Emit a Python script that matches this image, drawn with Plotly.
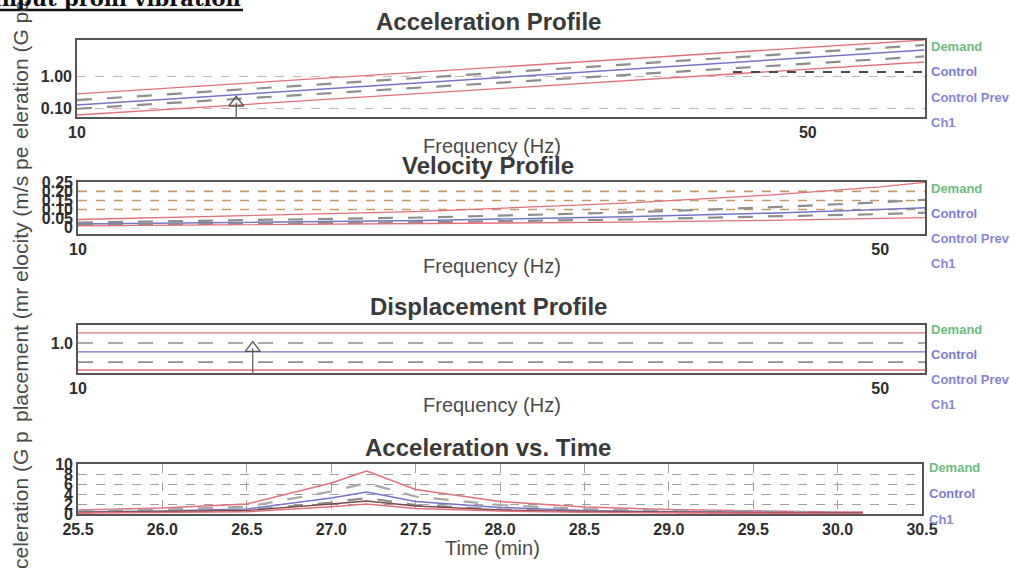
import plotly.graph_objects as go

W, H = 1010, 569

# ---------------- data ----------------
# Acceleration profile (G peak) vs frequency (Hz), log-log
acc_freq = [10, 64.6]
acc_abort_hi = [0.28, 12.8]
acc_alarm_hi = [0.18, 9.0]
acc_control = [0.128, 6.3]
acc_alarm_lo = [0.098, 4.0]
acc_abort_lo = [0.063, 2.7]
acc_prev_freq = [42.4, 64.6]
acc_prev = [1.33, 1.33]

# Velocity profile (m/s peak)
vel_freq = [10, 20, 30, 40, 50, 54.7]
vel_abort_hi = [0.045, 0.09, 0.135, 0.18, 0.225, 0.25]
vel_alarm_hi = [0.028, 0.056, 0.084, 0.112, 0.14, 0.154]
vel_control = [0.02, 0.04, 0.06, 0.08, 0.10, 0.11]
vel_alarm_lo = [0.015, 0.03, 0.045, 0.06, 0.075, 0.083]
vel_abort_lo = [0.01, 0.02, 0.03, 0.04, 0.05, 0.055]
vel_grid = [0.10, 0.15, 0.20]

# Displacement profile (mm)
dis_freq = [10, 54.7]
dis_abort_hi = [1.47, 1.47]
dis_alarm_hi = [1.0, 1.0]
dis_control = [0.71, 0.71]
dis_alarm_lo = [0.48, 0.48]
dis_abort_lo = [0.355, 0.355]

# Start marker (frequency, arrow bottom / tip)
mark_freq = 14.2
acc_mark_y = [0.055, 0.15]
dis_mark_y = [0.32, 0.82]

# Acceleration vs time
t_min = [25.5, 26.0, 26.5, 27.0, 27.21, 27.5, 28.0, 28.5, 29.0, 29.5, 30.0, 30.15]
t_abort_hi = [0.8, 1.2, 2.0, 6.2, 8.6, 4.9, 2.5, 1.4, 0.9, 0.6, 0.4, 0.4]
t_alarm_hi = [0.6, 0.9, 1.45, 4.5, 6.2, 3.5, 1.8, 1.0, 0.65, 0.43, 0.3, 0.3]
t_control = [0.4, 0.6, 1.0, 3.2, 4.4, 2.5, 1.3, 0.7, 0.45, 0.3, 0.2, 0.2]
t_alarm_lo = [0.3, 0.45, 0.75, 2.3, 3.2, 1.8, 0.9, 0.5, 0.33, 0.22, 0.15, 0.15]
t_abort_lo = [0.2, 0.28, 0.45, 1.45, 2.0, 1.1, 0.6, 0.33, 0.2, 0.14, 0.1, 0.1]
t_ch1 = [0.3, 0.45, 0.7, 2.0, 2.6, 1.6, 0.8, 0.5, 0.35, 0.25, 0.2, 0.2]

freq_ticks = [10, 50]
time_ticks = [25.5, 26.0, 26.5, 27.0, 27.5, 28.0, 28.5, 29.0, 29.5, 30.0, 30.5]
titles = ["Acceleration Profile", "Velocity Profile", "Displacement Profile", "Acceleration vs. Time"]
ytitle_frags = ["eleration (G pe", "elocity (m/s pe", "placement (mr", "celeration (G p"]
legend_freq = ["Demand", "Control", "Control Prev", "Ch1"]
legend_time = ["Demand", "Control", "Ch1"]

# ---------------- style ----------------
RED = "#e3707c"
GRAY = "#8e8e8e"
BLUE = "#7474c8"
DARK = "#4a4a4a"
FONT = "Liberation Sans, Arial, sans-serif"


def px(x):
    return x / W


def py(y):
    return 1 - y / H


fig = go.Figure()


def add(x, y, ax, color, width=1.3, dash="solid"):
    fig.add_trace(go.Scatter(x=x, y=y, mode="lines", xaxis="x" + ax, yaxis="y" + ax,
                             line=dict(color=color, width=width, dash=dash),
                             showlegend=False, hoverinfo="skip"))


# panel 1
add(acc_freq, acc_abort_hi, "", RED)
add(acc_freq, acc_alarm_hi, "", GRAY, 2.2, "longdash")
add(acc_freq, acc_control, "", BLUE, 1.5)
add(acc_freq, acc_alarm_lo, "", GRAY, 2.2, "longdash")
add(acc_freq, acc_abort_lo, "", RED)
add(acc_prev_freq, acc_prev, "", DARK, 2, "dash")
# panel 2
add(vel_freq, vel_abort_hi, "2", RED)
add(vel_freq, vel_alarm_hi, "2", GRAY, 2.2, "longdash")
add(vel_freq, vel_control, "2", BLUE, 1.5)
add(vel_freq, vel_alarm_lo, "2", GRAY, 2.2, "longdash")
add(vel_freq, vel_abort_lo, "2", RED)
# panel 3
add(dis_freq, dis_abort_hi, "3", RED)
add(dis_freq, dis_alarm_hi, "3", GRAY, 1.6, "longdash")
add(dis_freq, dis_control, "3", BLUE, 1.3)
add(dis_freq, dis_alarm_lo, "3", GRAY, 1.6, "longdash")
add(dis_freq, dis_abort_lo, "3", RED)
# panel 4
add(t_min, t_abort_hi, "4", RED, 1.5)
add(t_min, t_alarm_hi, "4", "#a8a8a8", 2.2, "longdash")
add(t_min, t_control, "4", BLUE, 1.5)
add(t_min, t_alarm_lo, "4", GRAY, 2.2, "longdash")
add(t_min, t_ch1, "4", "#7a4a4a", 1.3)
add(t_min, t_abort_lo, "4", RED, 1.5)

# start markers (arrow)
for ax, ys in (("", acc_mark_y), ("3", dis_mark_y)):
    fig.add_trace(go.Scatter(x=[mark_freq, mark_freq], y=ys, mode="lines", xaxis="x" + ax, yaxis="y" + ax,
                             line=dict(color="#555", width=1.2), showlegend=False, hoverinfo="skip"))
    fig.add_trace(go.Scatter(x=[mark_freq], y=[ys[1]], mode="markers", xaxis="x" + ax, yaxis="y" + ax,
                             marker=dict(symbol="triangle-up-open", size=13, color="#555",
                                         line=dict(width=1.3, color="#555")),
                             showlegend=False, hoverinfo="skip"))

tickfont = dict(family=FONT, size=16, color="#2e2e2e", weight="bold")
axbase = dict(showline=True, mirror=True, linecolor="#555", linewidth=1.6, ticks="",
              tickfont=tickfont, zeroline=False, automargin=False)

panels = {
    "": dict(x=(77, 925), y=(40, 117)),
    "2": dict(x=(78, 925), y=(182, 234)),
    "3": dict(x=(78, 925), y=(325, 373)),
    "4": dict(x=(78, 922), y=(464, 514)),
}

layout = dict(width=W, height=H, margin=dict(l=0, r=0, t=0, b=0, pad=0), autosize=False,
              paper_bgcolor="white", plot_bgcolor="white", showlegend=False)

xr = {"": [1, 1.811], "2": [1, 1.738], "3": [1, 1.738], "4": [25.5, 30.5]}
for k, p in panels.items():
    xa = dict(axbase, domain=[px(p["x"][0]), px(p["x"][1])], anchor="y" + k, range=xr[k])
    if k == "4":
        xa.update(type="linear", tickvals=time_ticks, ticktext=["%.1f" % v for v in time_ticks],
                  showgrid=True, gridcolor="#a0a0a0", griddash="dash", gridwidth=1)
    else:
        xa.update(type="log", tickvals=freq_ticks, ticktext=[str(v) for v in freq_ticks], showgrid=False)
    layout["xaxis" + k] = xa

layout["yaxis"] = dict(axbase, domain=[py(117), py(40)], anchor="x", type="log", range=[-1.262, 1.108],
                       tickvals=[0.1, 1.0], ticktext=["0.10", "1.00"], showgrid=True,
                       gridcolor="#d6aeb0", griddash="dash", gridwidth=1)
vt = [0, 0.05, 0.10, 0.15, 0.20, 0.25]
layout["yaxis2"] = dict(axbase, domain=[py(234), py(182)], anchor="x2", range=[-0.035, 0.252],
                        tickvals=vt, ticktext=["0", "0.05", "0.10", "0.15", "0.20", "0.25"], showgrid=False)
layout["yaxis3"] = dict(axbase, domain=[py(373), py(325)], anchor="x3", type="log", range=[-0.5, 0.3],
                        tickvals=[1.0], ticktext=["1.0"], showgrid=False)
layout["yaxis4"] = dict(axbase, domain=[py(514), py(464)], anchor="x4", range=[0, 10],
                        tickvals=[0, 2, 4, 6, 8, 10], ticktext=["0", "2", "4", "6", "8", "10"], showgrid=True,
                        gridcolor="#a0a0a0", griddash="dash", gridwidth=1)

ann = []
title_y = [22, 165, 306, 447]
for t, yy in zip(titles, title_y):
    ann.append(dict(text=t, x=px(488), y=py(yy), xref="paper", yref="paper", showarrow=False,
                    xanchor="center", yanchor="middle",
                    font=dict(family=FONT, size=24, color="#3a3a3a", weight="bold")))
for xt, yy in zip(["Frequency (Hz)", "Frequency (Hz)", "Frequency (Hz)", "Time (min)"], [146, 266, 405, 548]):
    ann.append(dict(text=xt, x=px(492), y=py(yy), xref="paper", yref="paper", showarrow=False,
                    xanchor="center", yanchor="middle",
                    font=dict(family=FONT, size=20, color="#4a4a4a")))
for frag, yy in zip(ytitle_frags, [70, 215, 355, 500]):
    ann.append(dict(text=frag, x=px(20), y=py(yy), xref="paper", yref="paper", showarrow=False,
                    xanchor="center", yanchor="middle",
                    textangle=-90, font=dict(family=FONT, size=21, color="#4a4a4a")))

leg_colors = {"Demand": "#6cbd7e", "Control": "#7c7cd0", "Control Prev": "#8585d4", "Ch1": "#8a8ad4"}
for base in [47, 188, 329]:
    for i, name in enumerate(legend_freq):
        ann.append(dict(text=name, x=px(929), y=py(base + 25 * i), xref="paper", yref="paper",
                        xanchor="left", yanchor="middle", showarrow=False,
                        font=dict(family=FONT, size=13, color=leg_colors[name], weight="bold")))
for i, name in enumerate(legend_time):
    ann.append(dict(text=name, x=px(927), y=py(468 + 25.5 * i), xref="paper", yref="paper",
                    xanchor="left", yanchor="middle", showarrow=False,
                    font=dict(family=FONT, size=13, color=leg_colors[name], weight="bold")))

# clipped document heading at the very top
ann.append(dict(text="Input profil vibration", x=px(243), y=py(-1), xref="paper", yref="paper",
                xanchor="right", yanchor="middle", showarrow=False,
                font=dict(family="DejaVu Serif, serif", size=21, color="#111", weight="bold")))
layout["annotations"] = ann

shapes = [dict(type="line", xref="paper", yref="paper", x0=0, x1=px(243), y0=py(10), y1=py(10),
               line=dict(color="#111", width=2.5))]
for g in vel_grid:
    shapes.append(dict(type="line", xref="x2 domain", yref="y2", x0=0, x1=1, y0=g, y1=g, layer="below",
                       line=dict(color="#c29a6a", width=1.6, dash="dash")))
layout["shapes"] = shapes

fig.update_layout(**layout)
fig.write_html("out.html")
